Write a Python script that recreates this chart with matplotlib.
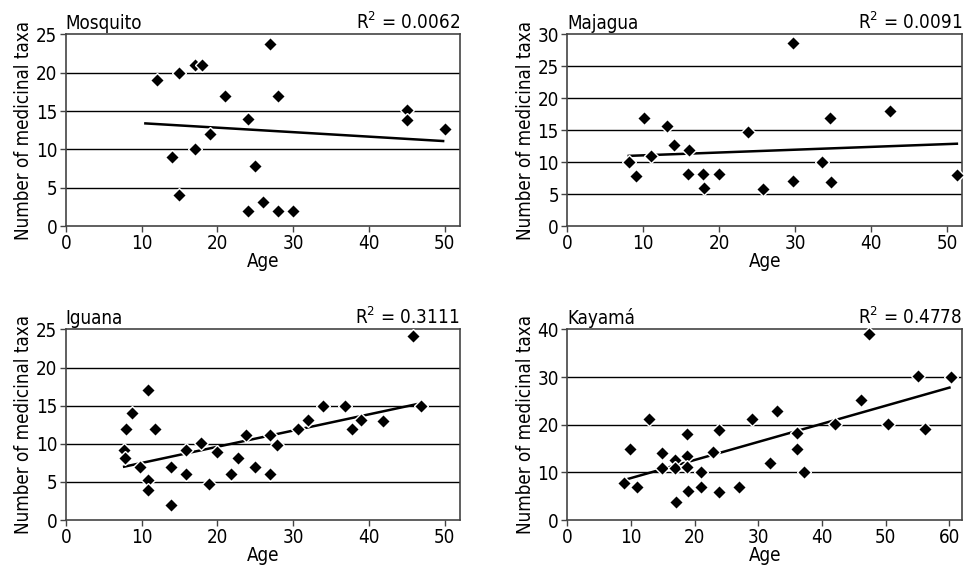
import matplotlib
matplotlib.use("Agg")
import matplotlib.pyplot as plt

plt.rcParams['font.family'] = ['DejaVu Sans']
plt.rcParams['font.stretch'] = 'condensed'
plt.rcParams['mathtext.default'] = 'regular'

# Mosquito
mosquito_age = [12, 15, 17, 18, 21, 27, 28, 24, 19, 14, 17, 25, 15, 24, 26, 28, 30, 45, 45, 50]
mosquito_taxa = [19, 20, 21, 21, 17, 23.7, 17, 14, 12, 9, 10, 7.8, 4, 2, 3.2, 2, 2, 15.1, 13.8, 12.7]
mosquito_trend_x = [10.5, 49.8]
mosquito_trend_y = [13.4, 11.1]

# Majagua
majagua_age = [8.1, 9.05, 10.1, 11, 13.1, 14, 16, 15.9, 17.9, 18, 20, 23.75, 25.8,
               29.75, 29.7, 33.6, 34.6, 34.7, 42.5, 51.3]
majagua_taxa = [10, 7.9, 16.9, 10.9, 15.7, 12.7, 11.9, 8.1, 8.1, 5.9, 8.1, 14.8, 5.8,
                28.6, 7.1, 10.1, 16.9, 6.9, 18, 8]
majagua_trend_x = [8.1, 51.3]
majagua_trend_y = [11.0, 12.9]

# Iguana
iguana_age = [7.7, 7.8, 7.9, 8.75, 9.8, 10.9, 10.9, 10.9, 11.8, 13.9, 13.9, 15.9, 15.9,
              17.9, 18.9, 19.9, 21.8, 22.7, 23.75, 25, 26.9, 26.9, 27.9, 30.7, 31.9,
              33.9, 36.8, 37.8, 39, 41.8, 45.8, 46.85]
iguana_taxa = [9.2, 8.1, 11.9, 14.1, 7, 17, 5.3, 4, 12, 7, 2, 9.2, 6, 10.1, 4.7, 8.9,
               6, 8.1, 11.1, 7, 6, 11.1, 9.8, 11.9, 13.1, 15, 15, 11.9, 13.1, 13, 24.2, 14.9]
iguana_trend_x = [7.7, 46.3]
iguana_trend_y = [7.0, 15.2]

# Kayama
kayama_age = [8.9, 9.8, 10.9, 12.8, 14.9, 14.9, 16.9, 16.9, 17, 18.85, 18.85, 18.85,
              18.95, 21.05, 21.05, 22.9, 23.9, 23.9, 27, 29, 31.9, 33, 36, 36, 37.1,
              42.05, 46.1, 47.35, 50.3, 55.1, 56.2, 60.2]
kayama_taxa = [7.8, 15, 7, 21.2, 14.1, 11, 12.6, 11, 3.85, 18.1, 13.4, 11.2, 6.2, 10.1,
               7, 14.2, 19, 5.8, 7, 21.3, 12, 22.9, 18.3, 15, 10, 20.1, 25.1, 39, 20.1,
               30.3, 19.1, 30.1]
kayama_trend_x = [9.45, 60]
kayama_trend_y = [8.6, 27.8]

panels = [
    ("Mosquito", "0.0062", mosquito_age, mosquito_taxa, mosquito_trend_x, mosquito_trend_y, 52, 25, 5, 50),
    ("Majagua", "0.0091", majagua_age, majagua_taxa, majagua_trend_x, majagua_trend_y, 52, 30, 5, 50),
    ("Iguana", "0.3111", iguana_age, iguana_taxa, iguana_trend_x, iguana_trend_y, 52, 25, 5, 50),
    ("Kayamá", "0.4778", kayama_age, kayama_taxa, kayama_trend_x, kayama_trend_y, 62, 40, 10, 60),
]

# axes rectangles in figure fractions: left, bottom, width, height
rects = [
    (0.068, 0.606, 0.407, 0.334),
    (0.586, 0.606, 0.408, 0.334),
    (0.068, 0.094, 0.407, 0.332),
    (0.586, 0.094, 0.408, 0.332),
]

fs = 13.5
fig = plt.figure(figsize=(9.68, 5.74), dpi=100)

for (name, r2, age, taxa, tx, ty, xmax, ymax, ystep, xlast), rect in zip(panels, rects):
    ax = fig.add_axes(rect)
    for v in range(ystep, ymax, ystep):
        ax.axhline(v, color='black', lw=1.0, zorder=1)
    ax.plot(tx, ty, color='black', lw=1.8, zorder=2)
    ax.plot(age, taxa, linestyle='none', marker='D', ms=7.5, mfc='black',
            mec='white', mew=1.0, zorder=3, clip_on=False)
    ax.set_xlim(0, xmax)
    ax.set_ylim(0, ymax)
    ax.set_xticks(range(0, xlast + 1, 10))
    ax.set_yticks(range(0, ymax + 1, ystep))
    for s in ax.spines.values():
        s.set_color('#444444')
        s.set_linewidth(1.2)
    ax.tick_params(direction='out', length=4, width=1, color='#444444',
                   labelsize=fs, pad=2)
    ax.set_xlabel("Age", fontsize=fs, labelpad=-1)
    ax.set_ylabel("Number of medicinal taxa", fontsize=fs, labelpad=2)
    ax.set_title(name, loc='left', fontsize=fs, pad=4)
    ax.set_title(r"R$^{2}$ = " + r2, loc='right', fontsize=fs, pad=4)

fig.savefig("out.png", dpi=100)
